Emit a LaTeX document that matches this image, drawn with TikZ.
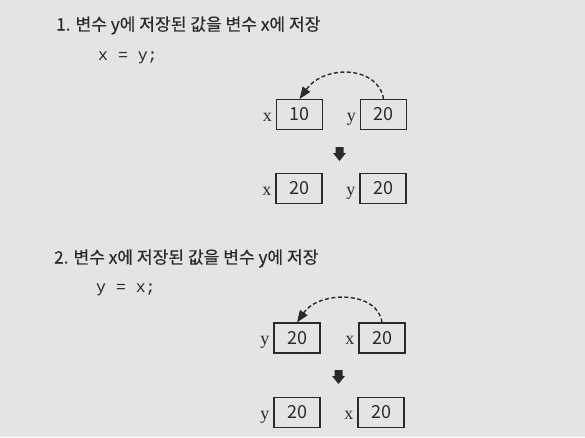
\documentclass[tikz,border=0pt]{standalone}
\usepackage{fontspec}
\newfontfamily\krfont[FakeBold=0.4]{Noto Sans CJK KR}
\newfontfamily\numfont{Noto Sans CJK KR}
\newfontfamily\lblfont{Liberation Serif}
\newfontfamily\codefont{Liberation Mono}
\usetikzlibrary{arrows.meta}
\definecolor{pagebg}{HTML}{E4E4E2}
\definecolor{ink}{HTML}{2A2A2A}
\tikzset{
  valbox/.style={draw=ink, line width=1.1pt, minimum width=46pt, minimum height=30pt, inner sep=0pt, text=ink, font=\numfont\fontsize{18}{18}\selectfont},
  varlbl/.style={anchor=base east, inner sep=0pt, text=ink, font=\lblfont\fontsize{18}{18}\selectfont},
  title/.style={anchor=base west, inner sep=0pt, text=ink, font=\krfont\fontsize{17.1}{17.1}\selectfont},
  codetxt/.style={anchor=base west, inner sep=0pt, text=ink, font=\codefont\fontsize{16.5}{16.5}\selectfont},
  copyarrow/.style={draw=ink, line width=1.4pt, dash pattern=on 4pt off 2.5pt, -{Triangle[length=12pt,width=9pt,fill=ink]}},
  downarrow/.style={fill=ink, draw=none}
}
\begin{document}
\begin{tikzpicture}[x=1pt,y=-1pt]
\fill[pagebg] (0,0) rectangle (585,437);
\useasboundingbox (0,0) rectangle (585,437);

% ---------- section 1 ----------
\node[title] (t1) at (56,30.5) {1. 변수 y에 저장된 값을 변수 x에 저장};
\node[codetxt] (c1) at (98,60) {x = y;};

\node[valbox] (a1) at (299.5,114.5) {10};
\node[valbox] (b1) at (383.5,114.5) {20};
\node[varlbl] (la1) at ([xshift=-4pt,yshift=-6.5pt]a1.west) {x};
\node[varlbl] (lb1) at ([xshift=-4pt,yshift=-6.5pt]b1.west) {y};
\draw[copyarrow] (b1.north) .. controls +(-5,-33) and +(25,-35) .. (a1.north);

\coordinate (d1) at (339.5,147);
\fill[downarrow] ([xshift=-4pt]d1) -- ++(8,0) -- ++(0,6) -- ++(2.5,0) -- ++(-6.5,8) -- ++(-6.5,-8) -- ++(2.5,0) -- cycle;

\node[valbox] (a1b) at (299,188.5) {20};
\node[valbox] (b1b) at (383,188.5) {20};
\node[varlbl] (la1b) at ([xshift=-4pt,yshift=-6.5pt]a1b.west) {x};
\node[varlbl] (lb1b) at ([xshift=-4pt,yshift=-6.5pt]b1b.west) {y};

% ---------- section 2 ----------
\node[title] (t2) at (54,263.5) {2. 변수 x에 저장된 값을 변수 y에 저장};
\node[codetxt] (c2) at (96,292) {y = x;};

\node[valbox] (a2) at (297,338) {20};
\node[valbox] (b2) at (382,338) {20};
\node[varlbl] (la2) at ([xshift=-4pt,yshift=-6.5pt]a2.west) {y};
\node[varlbl] (lb2) at ([xshift=-4pt,yshift=-6.5pt]b2.west) {x};
\draw[copyarrow] (b2.north) .. controls +(-4,-32) and +(22,-32) .. (a2.north);

\coordinate (d2) at (338.5,370);
\fill[downarrow] ([xshift=-4pt]d2) -- ++(8,0) -- ++(0,6) -- ++(2.5,0) -- ++(-6.5,8) -- ++(-6.5,-8) -- ++(2.5,0) -- cycle;

\node[valbox] (a2b) at (297,412.5) {20};
\node[valbox] (b2b) at (381,412.5) {20};
\node[varlbl] (la2b) at ([xshift=-4pt,yshift=-6.5pt]a2b.west) {y};
\node[varlbl] (lb2b) at ([xshift=-4pt,yshift=-6.5pt]b2b.west) {x};
\end{tikzpicture}
\end{document}
